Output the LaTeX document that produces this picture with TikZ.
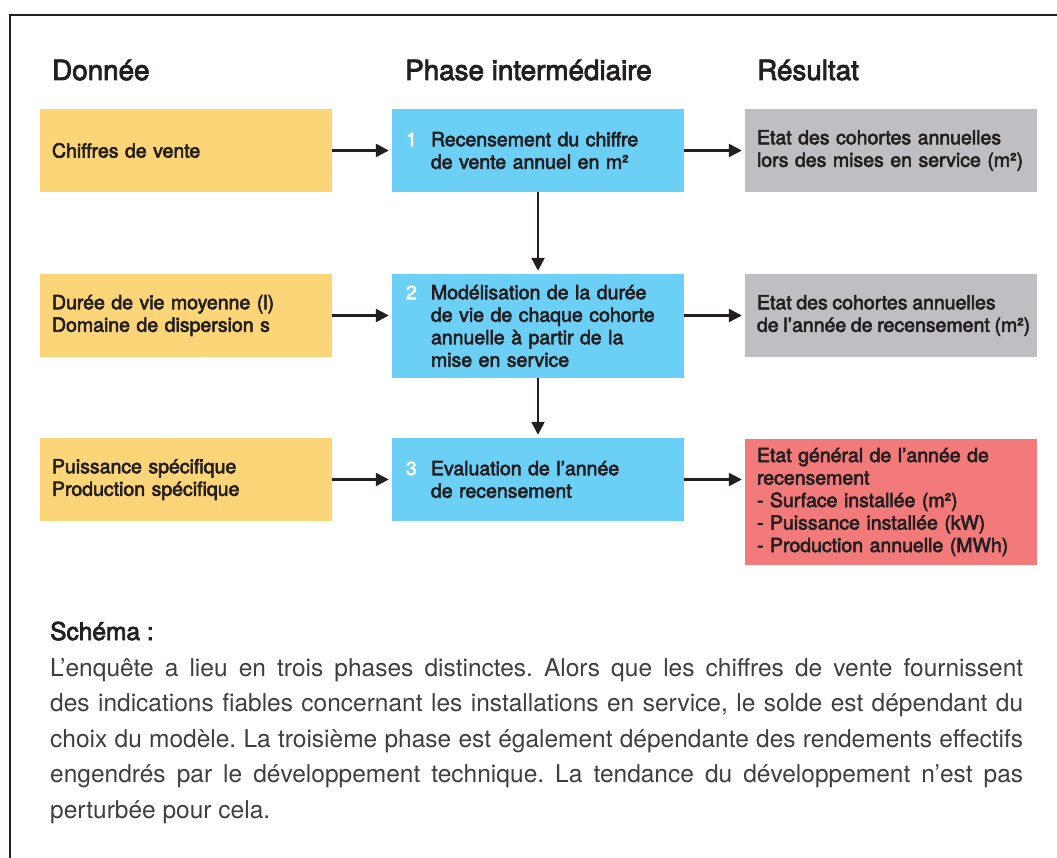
\documentclass[tikz,border=0pt]{standalone}
\usepackage{fontspec}
\setmainfont{TeX Gyre Heros}
\newfontfamily\medfont{TeX Gyre Heros}[FakeBold=3]
\usetikzlibrary{arrows.meta,positioning}

\definecolor{donnee}{RGB}{253,213,121}
\definecolor{phase}{RGB}{108,207,246}
\definecolor{resultat}{RGB}{191,191,195}
\definecolor{general}{RGB}{242,122,122}
\definecolor{encre}{RGB}{35,31,32}
\definecolor{texte}{RGB}{64,62,64}

\newcommand{\etape}[2]{\makebox[25pt][l]{\color{white}#1}\parbox[t]{253pt}{#2}}

\begin{document}
\begin{tikzpicture}[
					x = 1pt, y = -1pt,
					every node/.style = {text = encre},
					titre/.style = {anchor = base west, inner sep = 0pt, font = \medfont\fontsize{27.8}{32}\selectfont},
					boite/.style = {minimum height = 83pt, inner xsep = 0pt, inner ysep = 0pt, text width = 292pt, align = left,
						execute at begin node = {\leftskip=12pt}, font = \medfont\fontsize{19.5}{22.5}\selectfont},
					etapebox/.style = {boite, fill = phase, execute at begin node = {\leftskip=14pt}},
					fleche/.style = {-{Triangle[length=13pt,width=13pt]}, line width = 2.4pt, draw = encre, shorten > = 3pt},
				]

					\useasboundingbox (0,0) rectangle (1057,858);
					\draw[line width=2pt,encre] (1057,15) -- (10,15) -- (10,858);

					\node[titre] (tdonnee) at (52,80) {Donnée};
					\node[titre] (tphase) at (405,80) {Phase intermédiaire};
					\node[titre] (tresultat) at (757,80) {Résultat};

					\node[boite,fill=donnee] (d1) at (186,150.5) {Chiffres de vente};
					\node[boite,fill=donnee] (d2) at (186,315.5) {Durée de vie moyenne (l)\\Domaine de dispersion s};
					\node[boite,fill=donnee] (d3) at (186,479.5) {Puissance spécifique\\Production spécifique};

					\node[etapebox] (p1) at (538,150.5) {\etape{1}{Recensement du chiffre\\de vente annuel en m²}};
					\node[etapebox,minimum height=104pt] (p2) at (538,326) {\etape{2}{Modélisation de la durée\\de vie de chaque cohorte\\annuelle à partir de la\\mise en service}};
					\node[etapebox] (p3) at (538,479.5) {\etape{3}{Evaluation de l’année\\de recensement}};

					\node[boite,fill=resultat] (r1) at (891,150.5) {Etat des cohortes annuelles\\lors des mises en service (m²)};
					\node[boite,fill=resultat,execute at begin node={\spaceskip=.24em plus .1em}] (r2) at (891,315.5) {Etat des cohortes annuelles\\de l’année de recensement (m²)};
					\node[boite,fill=general,minimum height=126pt] (r3) at (891,502) {Etat général de l’année de\\recensement\\- Surface installée (m²)\\- Puissance installée (kW)\\- Production annuelle (MWh)};

					\draw[fleche] (d1.east) -- (p1.west);
					\draw[fleche] (p1.east) -- (r1.west);
					\draw[fleche] (d2.east) -- (d2.east -| p2.west);
					\draw[fleche] (d2.east -| p2.east) -- (r2.west);
					\draw[fleche] (d3.east) -- (p3.west);
					\draw[fleche] (p3.east) -- (p3.east -| r3.west);
					\draw[fleche] (p1.south) -- (p2.north);
					\draw[fleche] (p2.south) -- (p3.north);

					\node[titre] (tschema) at (50,640) {\fontsize{24.5}{30}\selectfont Schéma :};
					\node[anchor=base west,inner sep=0pt,text width=973pt,align=justify,text=texte,font=\fontsize{24.5}{35.5}\selectfont\frenchspacing] (legende) at (50,676) {L’enquête a lieu en trois phases distinctes. Alors que les chiffres de vente fournissent\linebreak des indications fiables concernant les installations en service, le solde est dépendant du\linebreak choix du modèle. La troisième phase est également dépendante des rendements effectifs\linebreak engendrés par le développement technique. La tendance du développement n’est pas\linebreak perturbée pour cela.};

				\end{tikzpicture}
\end{document}
